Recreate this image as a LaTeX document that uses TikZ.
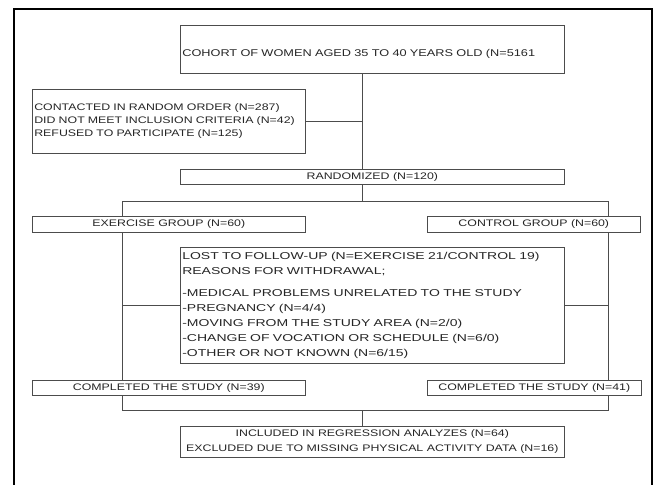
\documentclass[tikz,border=0pt]{standalone}
\usepackage{fontspec}
\newfontfamily\gothic[FakeStretch=1.3]{Liberation Sans}
\newfontfamily\gothicwide[FakeStretch=1.4]{Liberation Sans}
\tikzset{
  box/.style={draw=black!70,fill=white,line width=0.6pt,inner sep=0pt,text=black!85,
    anchor=north west,font=\gothic\fontsize{9.5}{13}\selectfont},
  link/.style={draw=black!70,line width=0.6pt}
}

\begin{document}
\begin{tikzpicture}[x=1pt,y=-1pt]
  \useasboundingbox (0,0) rectangle (660,484);
  % Frame
  \draw[line width=1.6pt] (14,490) -- (14,9) -- (652,9) -- (652,490);
  % Boxes
  \node[box,minimum width=384pt,text width=380pt,align=left,
    text height=31.3pt,text depth=16.7pt,font=\gothic\fontsize{9.8}{13}\selectfont] (cohort) at (180,25)
    {COHORT OF WOMEN AGED 35 TO 40 YEARS OLD (N=5161};
  \node[box,minimum width=273pt,minimum height=64pt,text width=269pt,align=left] (contact) at (32,89)
    {CONTACTED IN RANDOM ORDER (N=287)\\
     DID NOT MEET INCLUSION CRITERIA (N=42)\\
     REFUSED TO PARTICIPATE (N=125)};
  \node[box,minimum width=384pt,minimum height=15pt] (rand) at (180,169) {RANDOMIZED (N=120)};
  \node[box,minimum width=273pt,minimum height=16pt] (exer) at (32,216) {EXERCISE GROUP (N=60)};
  \node[box,minimum width=213pt,minimum height=16pt] (ctrl) at (427,216) {CONTROL GROUP (N=60)};
  \node[box,minimum width=384pt,minimum height=116pt,text width=380pt,align=left,
    font=\gothicwide\fontsize{10}{15}\selectfont] (lost) at (180,247)
    {LOST TO FOLLOW-UP (N=EXERCISE 21/CONTROL 19)\\
     REASONS FOR WITHDRAWAL;\\[7pt]
     -MEDICAL PROBLEMS UNRELATED TO THE STUDY\\
     -PREGNANCY (N=4/4)\\
     -MOVING FROM THE STUDY AREA (N=2/0)\\
     -CHANGE OF VOCATION OR SCHEDULE (N=6/0)\\
     -OTHER OR NOT KNOWN (N=6/15)};
  \node[box,minimum width=273pt,minimum height=15pt] (donel) at (32,380) {COMPLETED THE STUDY (N=39)};
  \node[box,minimum width=214pt,minimum height=15pt] (doner) at (427,380) {COMPLETED THE STUDY (N=41)};
  \node[box,minimum width=384pt,minimum height=31pt,align=center,
    font=\gothic\fontsize{9.5}{15}\selectfont] (incl) at (180,426)
    {INCLUDED IN REGRESSION ANALYZES (N=64)\\
     EXCLUDED DUE TO MISSING PHYSICAL ACTIVITY DATA (N=16)};
  % Junctions
  \coordinate (mid) at (362,0);
  \coordinate (sl) at (122,201);
  \coordinate (sr) at (608,201);
  \coordinate (jl) at (122,410);
  \coordinate (jr) at (608,410);
  % Lines
  \draw[link] (cohort.south -| mid) -- (rand.north -| mid);
  \draw[link] (contact.east) -- (contact.east -| mid);
  \draw[link] (rand.south -| mid) -- (mid |- sl);
  \draw[link] (sl) -- (sr);
  \draw[link] (sl) -- (exer.north -| sl);
  \draw[link] (sr) -- (ctrl.north -| sr);
  \draw[link] (exer.south -| sl) -- (donel.north -| sl);
  \draw[link] (ctrl.south -| sr) -- (doner.north -| sr);
  \draw[link] (lost.west) -- (lost.west -| sl);
  \draw[link] (lost.east) -- (lost.east -| sr);
  \draw[link] (donel.south -| jl) -- (jl) -- (jr) -- (doner.south -| jr);
  \draw[link] (mid |- jl) -- (incl.north -| mid);
\end{tikzpicture}
\end{document}
